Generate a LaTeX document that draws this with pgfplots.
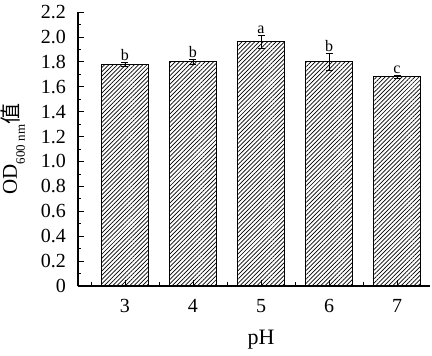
\documentclass[border=0pt]{standalone}
\usepackage{pgfplots}
\pgfplotsset{compat=1.18}
\usepackage{fontspec}
\setmainfont{Liberation Serif}
\newfontfamily\cjk{Noto Sans CJK SC}
\usetikzlibrary{patterns.meta}
\begin{document}
\begin{tikzpicture}
\begin{axis}[
  scale only axis, width=352pt, height=274pt,
  xmin=2.309, xmax=7.485, ymin=0, ymax=2.2,
  axis lines*=left,
  axis line style={line width=1.1pt, black},
  axis on top,
  xtick={3,4,5,6,7},
  minor xtick={2.5,3.5,4.5,5.5,6.5},
  ytick={0,0.2,0.4,0.6,0.8,1.0,1.2,1.4,1.6,1.8,2.0,2.2},
  yticklabels={0,0.2,0.4,0.6,0.8,1.0,1.2,1.4,1.6,1.8,2.0,2.2},
  minor ytick={0.1,0.3,0.5,0.7,0.9,1.1,1.3,1.5,1.7,1.9,2.1},
  tick align=inside,
  major tick length=6pt, minor tick length=3.5pt,
  tick style={black, line width=0.8pt},
  /pgf/number format/assume math mode=true,
  ticklabel style={font=\fontsize{20}{22}\selectfont},
  yticklabel style={xshift=-8.5pt},
  xticklabel style={yshift=-10pt},
  xlabel={pH},
  xlabel style={at={(axis description cs:0.52,0)}, anchor=base, yshift=-59pt, font=\fontsize{22}{24}\selectfont},
  ylabel={OD\raisebox{-8pt}{\fontsize{13}{13}\selectfont 600 nm}\raisebox{-2pt}{\smash{\cjk 值}}},
  ylabel style={at={(axis description cs:-0.15,0.5)}, anchor=south, rotate=0, inner sep=0pt, font=\fontsize{21}{23}\selectfont},
]
\addplot[ybar, bar width=0.69, bar shift=0pt, draw=black, line width=0.8pt,
  pattern={Lines[angle=45,distance=3pt,line width=0.7pt]},
  error bars/.cd, y dir=both, y explicit,
  error bar style={black, line width=0.8pt},
  error mark options={rotate=90, mark size=3.5pt, line width=0.8pt, black}]
coordinates {
  (3,1.78) +- (0,0.015)
  (4,1.80) +- (0,0.02)
  (5,1.96) +- (0,0.05)
  (6,1.80) +- (0,0.065)
  (7,1.68) +- (0,0.01)
};
\node[anchor=south, inner sep=1.5pt, font=\fontsize{16}{16}\selectfont] at (axis cs:3,1.795) {b};
\node[anchor=south, inner sep=1.5pt, font=\fontsize{16}{16}\selectfont] at (axis cs:4,1.82) {b};
\node[anchor=south, inner sep=1.5pt, font=\fontsize{16}{16}\selectfont] at (axis cs:5,2.01) {a};
\node[anchor=south, inner sep=1.5pt, font=\fontsize{16}{16}\selectfont] at (axis cs:6,1.865) {b};
\node[anchor=south, inner sep=1.5pt, font=\fontsize{16}{16}\selectfont] at (axis cs:7,1.69) {c};
\coordinate (o) at (rel axis cs:0,0);
\end{axis}
\pgfresetboundingbox
\path (o) ++(-78pt,-70pt) rectangle ++(432pt,356pt);
\end{tikzpicture}
\end{document}
